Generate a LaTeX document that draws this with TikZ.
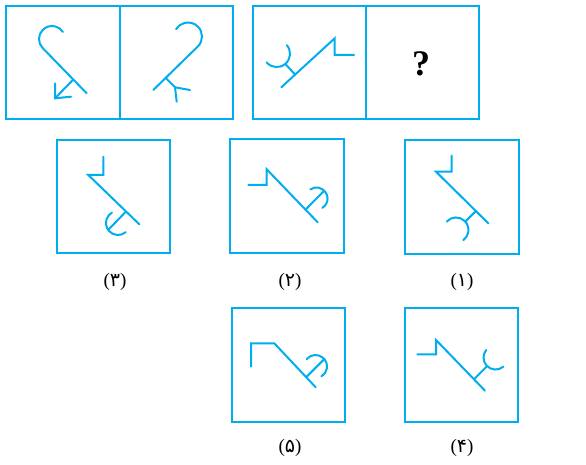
\documentclass[tikz,border=0pt]{standalone}
\usepackage{fontspec}
\setmainfont{Liberation Serif}
\newfontfamily\arabicfont[Script=Arabic]{DejaVu Sans}
\definecolor{figcyan}{RGB}{0,174,239}
\begin{document}
\begin{tikzpicture}[x=1pt,y=-1pt,
  frame/.style={figcyan, line width=2.3pt},
  fig/.style={figcyan, line width=2pt, line cap=round},
  lab/.style={font=\fontsize{19}{21}\selectfont, inner sep=0pt}]
  \useasboundingbox (0,0) rectangle (586,465);
  \draw[frame](6,6) rectangle (120,119);
  \draw[frame](120,6) rectangle (233,119);
  \draw[frame](253,6) rectangle (366,119);
  \draw[frame](366,6) rectangle (479,119);
  \draw[frame](57,140) rectangle (170,253);
  \draw[frame](230,139) rectangle (344,253);
  \draw[frame](405,140) rectangle (519,254);
  \draw[frame](232,308) rectangle (345,422);
  \draw[frame](405,308) rectangle (518,422);
  \draw[fig](86.7,93.3)--(42.8,48.2) arc[start angle=135, end angle=327, radius=13];
  \draw[fig](73.3,79.5)--(55,98.3);
  \draw[fig](55,83.3)--(55,98.3)--(71,96.7);
  \draw[fig](153.3,90)--(197.9,46.4) arc[start angle=45, end angle=-148, radius=14];
  \draw[fig](165.7,78)--(175,87.3)--(190,90);
  \draw[fig](175,87.3)--(176.7,101.7);
  \draw[fig](281.3,87.3)--(334.7,38.3)--(334.7,55)--(354,55);
  \draw[fig](295.1,74.6)--(285.3,63.9);
  \draw[fig](286.9,45.2) arc[start angle=-40, end angle=140, radius=13.3];
  \node[font=\bfseries\fontsize{36}{38}\selectfont, inner sep=0pt] (qmark) at (421,64) {?};
  \draw[fig](103.3,156.7)--(103.3,175)--(88.3,175)--(139.3,224.3);
  \draw[fig](126,211.5)--(108.2,229.9);
  \draw[fig](125.7,232.2) arc[start angle=50, end angle=240, radius=12];
  \draw[fig](248.3,185)--(266.7,185)--(266.7,169.3)--(317.7,222.3);
  \draw[fig](305.5,209.6)--(324.3,190.7);
  \draw[fig](310.4,189.4) arc[start angle=-124, end angle=58, radius=11];
  \draw[fig](451.7,155.7)--(451.7,171.7)--(436,171.7)--(488.3,223.3);
  \draw[fig](475.9,211)--(465.3,221.6);
  \draw[fig](446.7,221.6) arc[start angle=-138, end angle=54, radius=12.5];
  \draw[fig](251,366.7)--(251,343.3)--(274.3,343.3)--(315.7,387.3);
  \draw[fig](306.2,377.2)--(324.3,359.1);
  \draw[fig](306.7,359.1) arc[start angle=-140, end angle=60, radius=11.5];
  \draw[fig](417.3,354.3)--(436,354.3)--(436,340)--(485,390.7);
  \draw[fig](474,379.3)--(487.2,366.1);
  \draw[fig](503.4,366.6) arc[start angle=49, end angle=219, radius=12];
  \node[lab] (lab3) at (115,282) {({\arabicfont ۳})};
  \node[lab] (lab2) at (290,282) {({\arabicfont ۲})};
  \node[lab] (lab1) at (462,282) {({\arabicfont ۱})};
  \node[lab] (lab5) at (290,448) {({\arabicfont ۵})};
  \node[lab] (lab4) at (462,448) {({\arabicfont ۴})};
\end{tikzpicture}
\end{document}
